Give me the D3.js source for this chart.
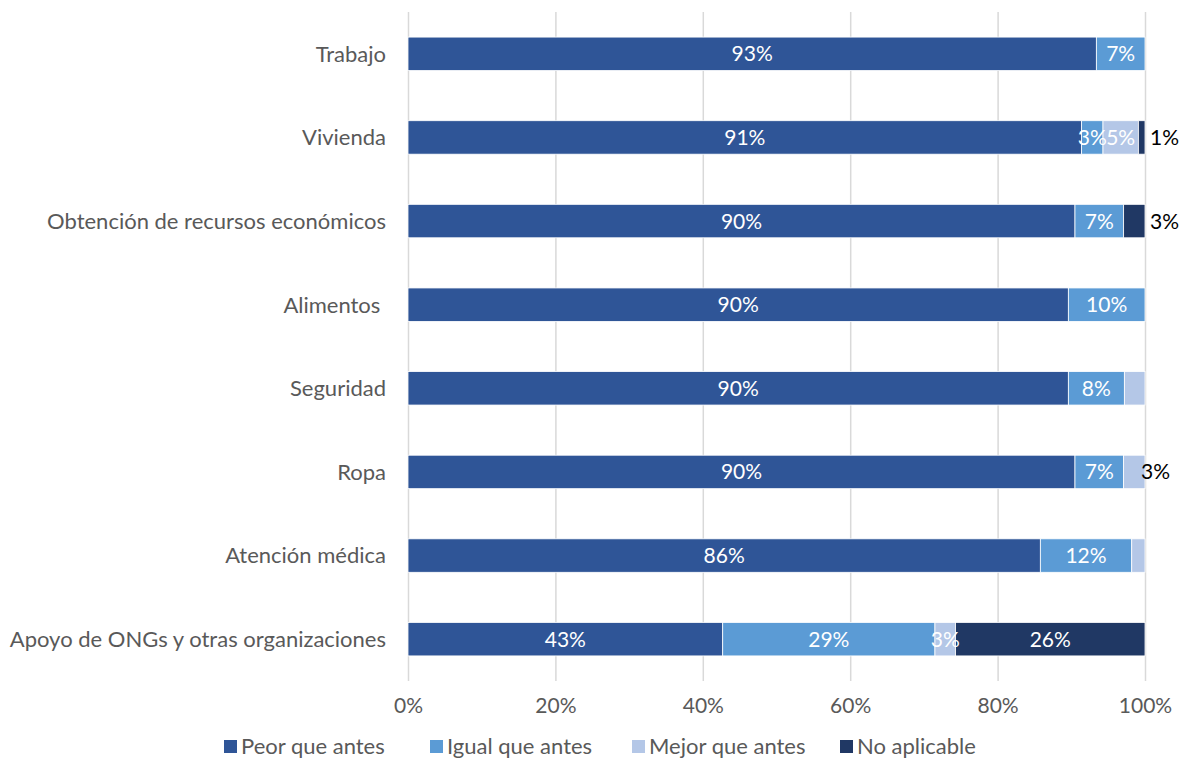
<!DOCTYPE html>
<html>
<head>
<meta charset="utf-8">
<script src="https://cdn.jsdelivr.net/npm/d3@7"></script>
<style>
  body { margin: 0; background: #fff; }
  svg text { font-family: Lato, "Open Sans", sans-serif; }
</style>
</head>
<body>
<div id="chart"></div>
<script>
// categories top to bottom
var categories = ["Trabajo", "Vivienda", "Obtención de recursos económicos", "Alimentos ",
  "Seguridad", "Ropa", "Atención médica", "Apoyo de ONGs y otras organizaciones"];

var seriesNames = ["Peor que antes", "Igual que antes", "Mejor que antes", "No aplicable"];

// values in percent
var peor    = [93.4, 91.4, 90.5, 89.6, 89.6, 90.5, 85.8, 42.7];
var igual   = [6.6,  2.9,  6.6, 10.4,  7.6,  6.6, 12.4, 28.8];
var mejor   = [0,    4.8,  0,    0,    2.8,  2.9,  1.8,  2.8];
var noAplic = [0,    0.9,  2.9,  0,    0,    0,    0,   25.7];

// printed labels ("" = none)
var peorLbl  = ["93%", "91%", "90%", "90%", "90%", "90%", "86%", "43%"];
var igualLbl = ["7%",  "3%",  "7%",  "10%", "8%",  "7%",  "12%", "29%"];
var mejorLbl = ["",    "5%",  "",    "",    "",    "3%",  "",    "3%"];
var noapLbl  = ["",    "1%",  "3%",  "",    "",    "",    "",    "26%"];
// labels Excel pushed outside the bar (series index per category, -1 none)
var outsideSeries = [-1, 3, 3, -1, -1, 2, -1, -1];

var xTicks = [0, 0.2, 0.4, 0.6, 0.8, 1];
var colors = ["#2F5597", "#5B9BD5", "#B4C7E7", "#203864"];

var W = 1181, H = 758;
var margin = {left: 408, right: 36, top: 12, bottom: 77};

var svg = d3.select("#chart").append("svg")
  .attr("width", W)
  .attr("height", H);

var x = d3.scaleLinear().domain([0, 100]).range([margin.left, W - margin.right]);
var y = d3.scaleBand().domain(categories).range([margin.top, H - margin.bottom]).paddingInner(0.6).paddingOuter(0.3);

// gridlines
var xAxis = d3.axisBottom(x)
  .tickValues(xTicks.map(function (t) { return t * 100; }))
  .tickFormat(function (d) { return d + "%"; })
  .tickSize(-(H - margin.bottom - margin.top))
  .tickPadding(17);

var gx = svg.append("g")
  .attr("transform", "translate(0," + (H - margin.bottom) + ")")
  .call(xAxis);
gx.select(".domain").remove();
gx.selectAll("line").attr("stroke", "#D9D9D9").attr("stroke-width", 1.5);
gx.selectAll("text").attr("fill", "#595959").style("font-size", "21px");

// stacked data
var rows = categories.map(function (c, i) {
  return {cat: c, vals: [peor[i], igual[i], mejor[i], noAplic[i]],
    lbls: [peorLbl[i], igualLbl[i], mejorLbl[i], noapLbl[i]], out: outsideSeries[i]};
});

var segs = [];
rows.forEach(function (r) {
  var acc = 0;
  r.vals.forEach(function (v, k) {
    segs.push({cat: r.cat, k: k, x0: acc, x1: acc + v, lbl: r.lbls[k], out: r.out === k});
    acc += v;
  });
});

svg.append("g").selectAll("rect")
  .data(segs.filter(function (d) { return d.x1 > d.x0; }))
  .enter().append("rect")
  .attr("x", function (d) { return x(d.x0); })
  .attr("y", function (d) { return y(d.cat); })
  .attr("width", function (d) { return x(d.x1) - x(d.x0); })
  .attr("height", y.bandwidth())
  .attr("fill", function (d) { return colors[d.k]; })
  .attr("stroke", "#fff")
  .attr("stroke-width", 0.8);

svg.append("g").selectAll("text")
  .data(segs.filter(function (d) { return d.lbl !== ""; }))
  .enter().append("text")
  .attr("x", function (d) {
    return d.out ? x(100) + (d.k === 2 ? -4 : 5) : (x(d.x0) + x(d.x1)) / 2;
  })
  .attr("y", function (d) { return y(d.cat) + y.bandwidth() / 2; })
  .attr("dy", "0.36em")
  .attr("text-anchor", function (d) { return d.out ? "start" : "middle"; })
  .attr("fill", function (d) { return d.out ? "#000" : "#fff"; })
  .style("font-size", "21px")
  .text(function (d) { return d.lbl; });

// category labels (keep the trailing space of "Alimentos ")
svg.append("g").selectAll("text")
  .data(categories)
  .enter().append("text")
  .attr("x", margin.left - 22)
  .attr("y", function (d) { return y(d) + y.bandwidth() / 2; })
  .attr("dy", "0.36em")
  .attr("text-anchor", "end")
  .attr("fill", "#595959")
  .style("font-size", "22px")
  .style("white-space", "pre")
  .text(function (d) { return d; });

// legend
var legX = [224, 430, 632, 840];
var leg = svg.append("g").selectAll("g")
  .data(seriesNames)
  .enter().append("g")
  .attr("transform", function (d, i) { return "translate(" + legX[i] + ",746)"; });
leg.append("rect")
  .attr("x", 0).attr("y", -6)
  .attr("width", 13).attr("height", 13)
  .attr("fill", function (d, i) { return colors[i]; });
leg.append("text")
  .attr("x", 17)
  .attr("dy", "0.36em")
  .attr("fill", "#595959")
  .style("font-size", "22px")
  .text(function (d) { return d; });
</script>
</body>
</html>
